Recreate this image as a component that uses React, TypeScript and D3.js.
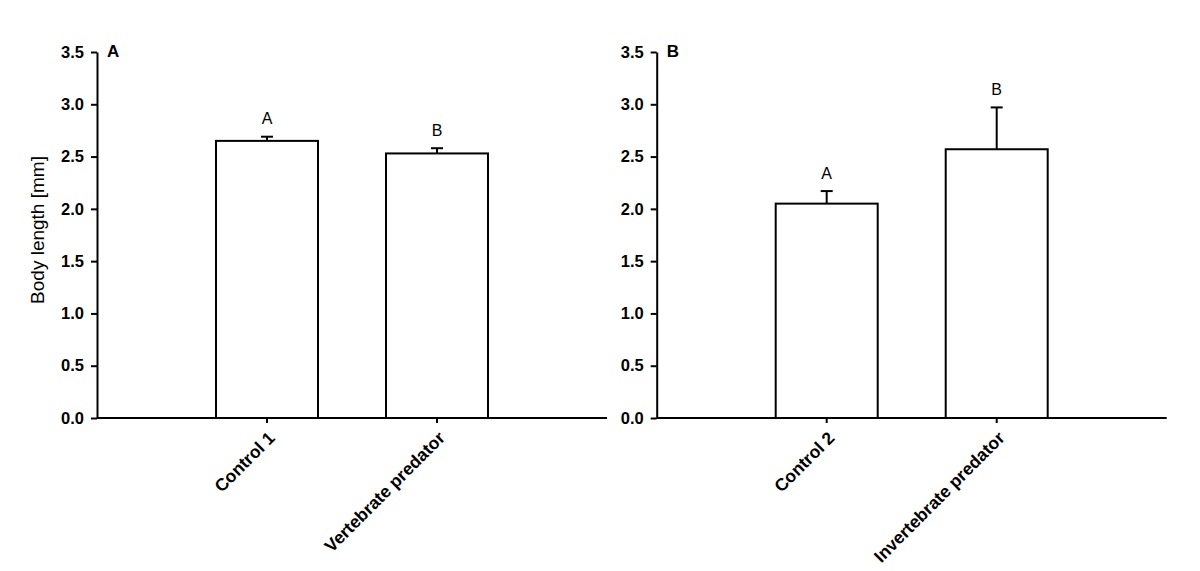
import React, { useEffect, useRef } from "react";
import { axisLeft, scaleLinear, select, format } from "d3";

// panel A
const catsA = ["Control 1", "Vertebrate predator"];
const meansA = [2.65, 2.53];
const errsA = [0.04, 0.05];
const lettersA = ["A", "B"];

// panel B
const catsB = ["Control 2", "Invertebrate predator"];
const meansB = [2.05, 2.57];
const errsB = [0.12, 0.4];
const lettersB = ["A", "B"];

const yTicks = [0, 0.5, 1.0, 1.5, 2.0, 2.5, 3.0, 3.5];

const FONT = "Liberation Sans, Arial, Helvetica, sans-serif";

function YAxis({ scale, x }) {
  const ref = useRef(null);
  useEffect(() => {
    if (!ref.current) return;
    const ax = axisLeft(scale)
      .tickValues(yTicks)
      .tickFormat(format(".1f"))
      .tickSize(6)
      .tickSizeOuter(0)
      .tickPadding(7);
    const g = select(ref.current).call(ax);
    g.select(".domain").attr("stroke-width", 2);
    g.selectAll(".tick line").attr("stroke-width", 2);
    g.selectAll("text")
      .attr("font-size", "16.5px")
      .attr("font-weight", "bold")
      .attr("font-family", FONT)
      .attr("fill", "#000");
  }, [scale, x]);
  return <g ref={ref} transform={`translate(${x},0)`} />;
}

function Panel({ x0, cats, means, errs, letters, tag }) {
  const y = scaleLinear().domain([0, 3.5]).range([418, 52]);
  const x = scaleLinear().domain([0, 3]).range([x0, x0 + 510]);
  const barW = x(0.6) - x(0);
  const base = y(0);

  return (
    <g>
      {means.map((m, i) => {
        const cx = x(i + 1);
        const top = y(m);
        const capY = y(m + errs[i]);
        return (
          <g key={cats[i]}>
            <line x1={cx} x2={cx} y1={top} y2={capY} stroke="#000" strokeWidth={2} />
            <line x1={cx - 6} x2={cx + 6} y1={capY} y2={capY} stroke="#000" strokeWidth={2} />
            <rect x={cx - barW / 2} y={top} width={barW} height={base - top} fill="#fff" stroke="#000" strokeWidth={2} />
            <text x={cx} y={capY - 12.5} textAnchor="middle" fontSize={16} fontFamily={FONT}>
              {letters[i]}
            </text>
            <line x1={cx} x2={cx} y1={base} y2={base + 5} stroke="#000" strokeWidth={2} />
            <text
              transform={`translate(${cx + 9},${base + 21}) rotate(-45)`}
              textAnchor="end"
              fontSize={17.5}
              fontWeight="bold"
              fontFamily={FONT}
            >
              {cats[i]}
            </text>
          </g>
        );
      })}
      <line x1={x(0)} x2={x(3)} y1={base} y2={base} stroke="#000" strokeWidth={2} />
      <YAxis scale={y} x={x0} />
      <text x={x0 + 10} y={57} fontSize={17} fontWeight="bold" fontFamily={FONT}>
        {tag}
      </text>
    </g>
  );
}

export default function App() {
  return (
    <svg
      width={1200}
      height={571}
      style={{ position: "absolute", left: 0, top: 0, background: "#fff" }}
    >
      <text
        transform="translate(44,230) rotate(-90)"
        textAnchor="middle"
        fontSize={19}
        fontFamily={FONT}
      >
        Body length [mm]
      </text>
      <Panel x0={97} cats={catsA} means={meansA} errs={errsA} letters={lettersA} tag="A" />
      <Panel x0={656.7} cats={catsB} means={meansB} errs={errsB} letters={lettersB} tag="B" />
    </svg>
  );
}
